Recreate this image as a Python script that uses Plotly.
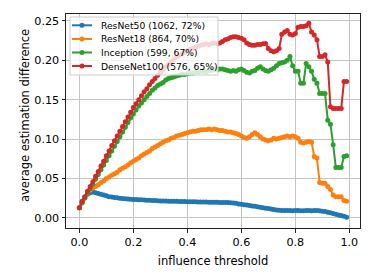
import plotly.graph_objects as go

thresholds = [i / 100 for i in range(100)]

resnet50 = [0.013, 0.020, 0.026, 0.030, 0.032, 0.033, 0.032, 0.031, 0.030, 0.029,
            0.028, 0.027, 0.0265, 0.026, 0.0255, 0.025, 0.0247, 0.0244, 0.0241, 0.0238,
            0.0235, 0.0233, 0.0231, 0.0229, 0.0227, 0.0225, 0.0223, 0.0221, 0.022, 0.0218,
            0.0216, 0.0215, 0.0214, 0.0213, 0.0212, 0.0211, 0.021, 0.0209, 0.0208, 0.0207,
            0.0206, 0.0205, 0.0204, 0.0204, 0.0203, 0.0202, 0.0201, 0.0201, 0.02, 0.0199,
            0.0199, 0.0198, 0.0197, 0.0197, 0.0196, 0.0195, 0.0193, 0.019, 0.0185, 0.0178,
            0.0172, 0.0168, 0.0163, 0.0158, 0.0152, 0.0147, 0.0141, 0.0135, 0.013, 0.0124,
            0.0118, 0.0112, 0.0106, 0.01, 0.0096, 0.0094, 0.0093, 0.0093, 0.0093, 0.0092,
            0.0093, 0.0093, 0.0092, 0.0092, 0.0093, 0.0093, 0.0092, 0.0093, 0.0094, 0.0091,
            0.0086, 0.008, 0.0072, 0.0064, 0.0056, 0.0047, 0.0038, 0.003, 0.002, 0.0009]

resnet18 = [0.013, 0.020, 0.026, 0.031, 0.035, 0.038, 0.040, 0.042, 0.045, 0.047,
            0.050, 0.052, 0.054, 0.056, 0.058, 0.061, 0.063, 0.065, 0.067, 0.070,
            0.072, 0.074, 0.076, 0.079, 0.081, 0.083, 0.085, 0.088, 0.090, 0.092,
            0.094, 0.096, 0.098, 0.099, 0.101, 0.102, 0.104, 0.105, 0.106, 0.107,
            0.108, 0.109, 0.110, 0.110, 0.111, 0.112, 0.112, 0.112, 0.113, 0.112,
            0.113, 0.112, 0.111, 0.111, 0.110, 0.109, 0.109, 0.108, 0.107, 0.106,
            0.104, 0.102, 0.101, 0.103, 0.106, 0.108, 0.106, 0.103, 0.100, 0.099,
            0.098, 0.099, 0.101, 0.100, 0.101, 0.102, 0.103, 0.104, 0.103, 0.104,
            0.103, 0.101, 0.096, 0.095, 0.096, 0.097, 0.096, 0.078, 0.076, 0.045,
            0.044, 0.044, 0.040, 0.036, 0.029, 0.027, 0.027, 0.027, 0.022, 0.021]

inception = [0.013, 0.019, 0.025, 0.031, 0.037, 0.043, 0.049, 0.055, 0.061, 0.067,
             0.073, 0.079, 0.085, 0.091, 0.097, 0.103, 0.109, 0.115, 0.121, 0.127,
             0.132, 0.137, 0.142, 0.146, 0.150, 0.154, 0.158, 0.162, 0.165, 0.168,
             0.170, 0.172, 0.175, 0.177, 0.178, 0.179, 0.180, 0.181, 0.182, 0.182,
             0.183, 0.184, 0.184, 0.185, 0.185, 0.186, 0.186, 0.185, 0.187, 0.187,
             0.188, 0.188, 0.189, 0.189, 0.188, 0.187, 0.186, 0.187, 0.186, 0.188,
             0.189, 0.187, 0.185, 0.184, 0.186, 0.187, 0.190, 0.192, 0.189, 0.187,
             0.186, 0.188, 0.190, 0.193, 0.196, 0.197, 0.198, 0.200, 0.205, 0.193,
             0.186, 0.186, 0.171, 0.171, 0.196, 0.192, 0.186, 0.176, 0.171, 0.158,
             0.158, 0.158, 0.124, 0.119, 0.093, 0.064, 0.064, 0.064, 0.078, 0.079]

densenet100 = [0.013, 0.021, 0.027, 0.034, 0.040, 0.046, 0.053, 0.059, 0.066, 0.072,
               0.079, 0.085, 0.092, 0.098, 0.104, 0.110, 0.116, 0.122, 0.128, 0.134,
               0.140, 0.145, 0.150, 0.155, 0.160, 0.164, 0.169, 0.173, 0.177, 0.181,
               0.185, 0.188, 0.192, 0.195, 0.198, 0.201, 0.204, 0.206, 0.208, 0.210,
               0.212, 0.214, 0.215, 0.217, 0.218, 0.219, 0.220, 0.221, 0.220, 0.221,
               0.222, 0.221, 0.222, 0.224, 0.226, 0.227, 0.229, 0.230, 0.230, 0.229,
               0.228, 0.226, 0.222, 0.220, 0.219, 0.219, 0.220, 0.220, 0.221, 0.2215,
               0.215, 0.212, 0.211, 0.212, 0.215, 0.233, 0.236, 0.238, 0.233, 0.232,
               0.234, 0.242, 0.243, 0.243, 0.244, 0.247, 0.236, 0.232, 0.226, 0.205,
               0.205, 0.207, 0.198, 0.141, 0.139, 0.139, 0.139, 0.139, 0.173, 0.173]

series_names = ["ResNet50 (1062, 72%)", "ResNet18 (864, 70%)",
                "Inception (599, 67%)", "DenseNet100 (576, 65%)"]
series_values = [resnet50, resnet18, inception, densenet100]
colors = ["#1f77b4", "#ff7f0e", "#2ca02c", "#d62728"]

x_ticks = [0.0, 0.2, 0.4, 0.6, 0.8, 1.0]
x_tick_labels = ["0.0", "0.2", "0.4", "0.6", "0.8", "1.0"]
y_ticks = [0.00, 0.05, 0.10, 0.15, 0.20, 0.25]
y_tick_labels = ["0.00", "0.05", "0.10", "0.15", "0.20", "0.25"]

# the page body adds an 8px offset; the figure is sized so that the
# plot area lands at screen x 66..360, y 14..228
OFF = 8
W, H = 374 - OFF, 278 - OFF
P_L, P_R, P_T, P_B = 66, 360, 14, 228
ML, MR, MT, MB = P_L - OFF, 374 - P_R, P_T - OFF, 278 - P_B
PW, PH = P_R - P_L, P_B - P_T


def xf(px):
    return (px - P_L) / PW


def yf(py):
    return (P_B - py) / PH


fig = go.Figure()
for name, vals, col in zip(series_names, series_values, colors):
    fig.add_trace(go.Scatter(
        x=thresholds, y=vals, name=name, mode="lines+markers",
        line=dict(color=col, width=2),
        marker=dict(color=col, size=5),
        showlegend=False,
    ))

font = "DejaVu Sans"

# legend (compact box in the upper left)
shapes = [dict(type="rect", xref="paper", yref="paper",
               x0=xf(70), x1=xf(218), y0=yf(75), y1=yf(17),
               line=dict(color="#cccccc", width=1),
               fillcolor="rgba(255,255,255,0.8)", layer="above")]
annotations = []
row_y = [25.3, 39, 52.5, 66]
for name, col, ry in zip(series_names, colors, row_y):
    shapes.append(dict(type="line", xref="paper", yref="paper",
                       x0=xf(72), x1=xf(92), y0=yf(ry), y1=yf(ry),
                       line=dict(color=col, width=2), layer="above"))
    shapes.append(dict(type="circle", xref="paper", yref="paper",
                       xsizemode="pixel", ysizemode="pixel",
                       xanchor=xf(82), yanchor=yf(ry),
                       x0=-2.5, x1=2.5, y0=-2.5, y1=2.5,
                       line=dict(color=col, width=0), fillcolor=col, layer="above"))
    annotations.append(dict(xref="paper", yref="paper", x=xf(98.5), y=yf(ry),
                            xanchor="left", yanchor="middle", showarrow=False,
                            text=name, font=dict(family=font, size=9.2, color="black")))

# y axis title
annotations.append(dict(xref="paper", yref="paper", x=xf(25), y=yf(116),
                        xanchor="center", yanchor="middle", showarrow=False,
                        textangle=-90, text="average estimation difference",
                        font=dict(family=font, size=11.5, color="black")))

fig.update_layout(
    width=W, height=H,
    margin=dict(l=ML, r=MR, t=MT, b=MB),
    paper_bgcolor="white", plot_bgcolor="white",
    font=dict(family=font, size=11, color="black"),
    showlegend=False,
    shapes=shapes, annotations=annotations,
    xaxis=dict(
        range=[-0.0495, 1.0395], automargin=False,
        tickvals=x_ticks, ticktext=x_tick_labels,
        showgrid=True, gridcolor="#c4c4c4", gridwidth=1,
        zeroline=False,
        showline=True, linecolor="#222222", linewidth=1, mirror=True,
        ticks="outside", ticklen=3.5, tickwidth=0.8, tickcolor="#222222",
        tickfont=dict(family=font, size=11.2),
        title=dict(text="influence threshold", font=dict(family=font, size=11.5), standoff=9),
    ),
    yaxis=dict(
        range=[-0.0128, 0.2588], automargin=False,
        tickvals=y_ticks, ticktext=y_tick_labels,
        showgrid=True, gridcolor="#c4c4c4", gridwidth=1,
        zeroline=False,
        showline=True, linecolor="#222222", linewidth=1, mirror=True,
        ticks="outside", ticklen=3.5, tickwidth=0.8, tickcolor="#222222",
        tickfont=dict(family=font, size=11.2),
    ),
)

fig.write_html("out.html")
